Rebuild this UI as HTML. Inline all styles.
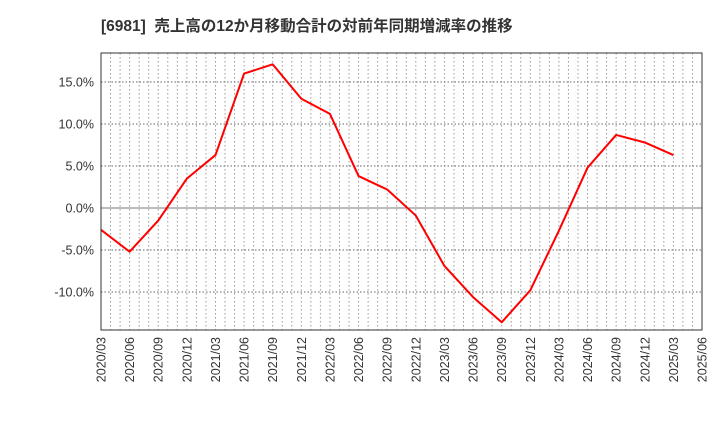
<!DOCTYPE html>
<html><head><meta charset="utf-8"><style>
body{margin:0;background:#fff;}
svg text{font-family:"Liberation Sans","Noto Sans CJK JP",sans-serif;}
</style></head><body>
<svg id="chart" width="720" height="440" xmlns="http://www.w3.org/2000/svg">
<text x="101" y="31" font-size="15.5" font-weight="bold" fill="#333" xml:space="preserve">[6981]  売上高の12か月移動合計の対前年同期増減率の推移</text>
<g id="grid"></g>
<g id="yaxis"></g>
<g id="xaxis"></g>
<polyline id="line" fill="none" stroke="#ff0000" stroke-width="2" stroke-linejoin="round"/>
<rect x="101" y="53" width="601" height="277" fill="none" stroke="#333" stroke-width="1"/>
</svg>
<script>
const categories=["2020/03","2020/06","2020/09","2020/12","2021/03","2021/06","2021/09","2021/12","2022/03","2022/06","2022/09","2022/12","2023/03","2023/06","2023/09","2023/12","2024/03","2024/06","2024/09","2024/12","2025/03"];
const values=[-2.6,-5.2,-1.5,3.5,6.3,16.0,17.1,13.0,11.2,3.8,2.2,-0.9,-6.9,-10.6,-13.6,-9.8,-2.7,4.8,8.7,7.8,6.3];
const xTickLabels=["2020/03","2020/06","2020/09","2020/12","2021/03","2021/06","2021/09","2021/12","2022/03","2022/06","2022/09","2022/12","2023/03","2023/06","2023/09","2023/12","2024/03","2024/06","2024/09","2024/12","2025/03","2025/06"];
const yTicks=[15,10,5,0,-5,-10];
const L=101,R=702,T=53,B=330,yMax=18.45,yMin=-14.52;
const NS="http://www.w3.org/2000/svg";
const xq=i=>L+(R-L)*i/(xTickLabels.length-1);
const y=v=>T+(yMax-v)/(yMax-yMin)*(B-T);
function mk(tag,attrs,parent){const e=document.createElementNS(NS,tag);for(const k in attrs)e.setAttribute(k,attrs[k]);document.getElementById(parent).appendChild(e);return e;}
const months=(xTickLabels.length-1)*3;
for(let m=1;m<months;m++){const x=L+(R-L)*m/months;
 const g=mk("line",{x1:x,x2:x,y1:T,y2:B,stroke:"#999","stroke-dasharray":"1.5,2.5","stroke-width":1},"grid");
 
 }
yTicks.forEach(v=>{const yy=y(v);
 const attrs=v===0?{x1:L,x2:R,y1:yy,y2:yy,stroke:"#777","stroke-width":1}:{x1:L,x2:R,y1:yy,y2:yy,stroke:"#666","stroke-dasharray":"1.5,2","stroke-width":1};
 const g=mk("line",attrs,"grid");
 
 
 const t=mk("text",{x:L-7,y:yy+4.5,"text-anchor":"end","font-size":"12.5",fill:"#333"},"yaxis");
 t.textContent=v.toFixed(1)+"%";
 
 });
xTickLabels.forEach((s,i)=>{const x=xq(i);
 const t=mk("text",{x:0,y:0,transform:`translate(${x+4.5},337) rotate(-90)`,"text-anchor":"end","font-size":"12.5",fill:"#333"},"xaxis");
 t.textContent=s;
 
 });
document.getElementById("line").setAttribute("points",values.map((v,i)=>xq(xTickLabels.indexOf(categories[i]))+","+y(v)).join(" "));
</script>
</body></html>
